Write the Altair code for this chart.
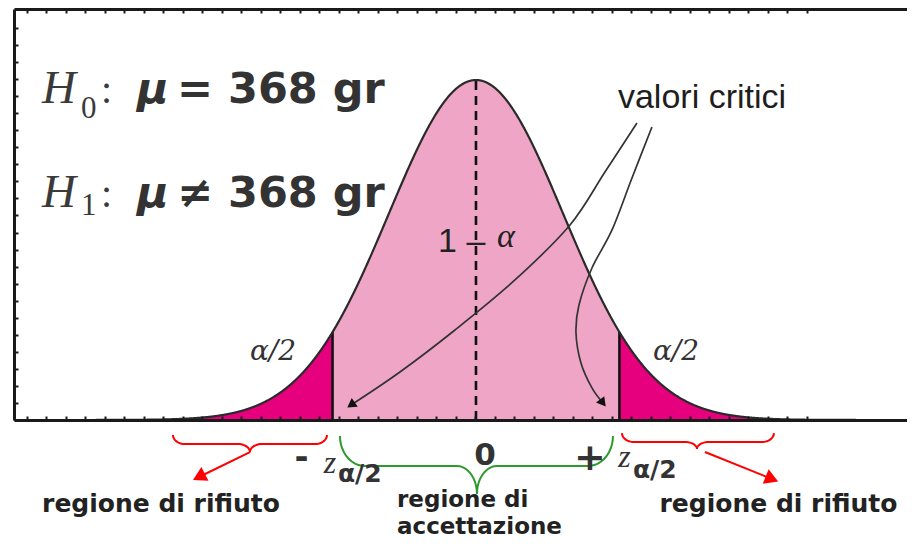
import altair as alt
import numpy as np
import pandas as pd

# ---------------- data ----------------
Z_CRIT = 1.645                      # critical value z_{alpha/2}
MU, SIGMA = 0, 1
CRIT_VALUES = [-Z_CRIT, Z_CRIT]
CENTER = [MU]
Z_DOMAIN = [-5.298, 4.943]
D_DOMAIN = [0.0, 0.4823]

H_SYMBOL = "H"
HYP_SUBS = ["0", "1"]
MU_SYMBOL = "μ"
HYP_RELS = ["= 368 gr", "≠ 368 gr"]
LBL_CRIT = "valori critici"
LBL_ONE, LBL_MINUS, LBL_ALPHA = "1", "–", "α"
LBL_HALF = "α/2"
LBL_Z = "z"
LBL_ZERO = "0"
LBL_NEG, LBL_POS = "-", "+"
LBL_REJECT = "regione di rifiuto"
LBL_ACCEPT = ["regione di", "accettazione"]

XTICKS = [round(-5.15 + 0.2236 * k, 4) for k in range(41)]
YTICKS = [round(0.02 * k, 2) for k in range(1, 24)]

# ---------------- style ----------------
W, H = 893, 411
PINK = "#EFA6C6"
MAGENTA = "#E6007E"
RED = "#FF0000"
GREEN = "#2E9A2E"
INK = "#222222"
FRAME = "#1a1a1a"

xs = alt.Scale(domain=Z_DOMAIN, nice=False, zero=False)
ys = alt.Scale(domain=D_DOMAIN, nice=False, zero=False)

frame_axis = dict(labels=False, title=None, grid=False, domainColor=FRAME,
                  domainWidth=3, tickColor=FRAME, tickWidth=2, tickSize=4, zindex=1)

seq = alt.sequence(Z_DOMAIN[0], Z_DOMAIN[1], 0.005, as_="z")
dens = f"densityNormal({{}},{MU},{SIGMA})"


def area_layer(expr, color, xaxis=None):
    return alt.Chart(seq).transform_calculate(zz=expr).transform_calculate(
        d=dens.format("datum.zz")
    ).mark_area(color=color).encode(
        x=alt.X("zz:Q", scale=xs, axis=xaxis),
        y=alt.Y("d:Q", scale=ys, axis=None),
    )


center_area = area_layer(f"clamp(datum.z,{-Z_CRIT},{Z_CRIT})", PINK)
left_tail = area_layer(f"min(datum.z,{-Z_CRIT})", MAGENTA,
                       xaxis=alt.Axis(orient="bottom", offset=-H, values=XTICKS, **frame_axis))
right_tail = area_layer(f"max(datum.z,{Z_CRIT})", MAGENTA)

outline = alt.Chart(seq).transform_calculate(d=dens.format("datum.z")).mark_line(
    color="#2a2a2a", strokeWidth=2.2
).encode(
    x=alt.X("z:Q", scale=xs, axis=alt.Axis(orient="top", offset=-H, values=XTICKS, **frame_axis)),
    y=alt.Y("d:Q", scale=ys, axis=alt.Axis(orient="right", offset=-W, values=YTICKS, **frame_axis)),
)


def vrule(values, **style):
    return alt.Chart(pd.DataFrame({"z": values})).transform_calculate(
        d=dens.format("datum.z"), d0="0"
    ).mark_rule(color="#111111", strokeWidth=2.6, **style).encode(
        x=alt.X("z:Q", axis=None), y=alt.Y("d0:Q", axis=None), y2="d:Q"
    )


crit_lines = vrule(CRIT_VALUES)
center_line = vrule(CENTER, strokeDash=[9, 6])


def text_layer(label, x, y, size, font="DejaVu Sans", weight="normal", style="normal",
               color=INK, align="left"):
    return alt.Chart(alt.Data(values=[{"t": label, "px": x, "py": y}])).mark_text(
        align=align, baseline="alphabetic", font=font, fontSize=size,
        fontWeight=weight, fontStyle=style, color=color
    ).encode(x=alt.X("px:Q", axis=None), y=alt.Y("py:Q", axis=None), text="t:N")


texts = []
for sub, rel, yb, ysub in zip(HYP_SUBS, HYP_RELS, [0.3720, 0.2500], [0.3544, 0.2406]):
    texts += [
        text_layer(H_SYMBOL, -4.977, yb, 47, font="Liberation Serif", style="italic", color="#3a3a3a"),
        text_layer(sub, -4.530, ysub, 31, font="Liberation Serif", color="#3a3a3a"),
        text_layer(":", -4.300, yb, 40, font="Liberation Serif", color="#3a3a3a"),
        text_layer(MU_SYMBOL, -3.888, yb, 43, weight="bold", style="italic", color="#333333"),
        text_layer(rel, -3.429, yb, 43, weight="bold", color="#333333"),
    ]

texts += [
    text_layer(LBL_CRIT, 1.628, 0.3661, 34, font="Liberation Sans", color="#1e1e1e"),
    text_layer(LBL_ONE, -0.436, 0.1971, 34, font="Liberation Sans"),
    text_layer(LBL_MINUS, 0.0, 0.1971, 34, font="Liberation Sans", align="center"),
    text_layer(LBL_ALPHA, 0.241, 0.2030, 34, font="Liberation Serif", style="italic"),
    text_layer(LBL_HALF, -2.328, 0.0704, 28, font="DejaVu Serif", style="italic",
               color="#333333", align="center"),
    text_layer(LBL_HALF, 2.294, 0.0704, 28, font="DejaVu Serif", style="italic",
               color="#333333", align="center"),
    text_layer(LBL_NEG, -2.001, -0.0563, 34, weight="bold", color="#333333", align="center"),
    text_layer(LBL_Z, -1.674, -0.0622, 32, font="Liberation Serif", style="italic",
               color="#333333", align="center"),
    text_layer(LBL_HALF, -1.583, -0.0728, 25, weight="bold", color="#333333"),
    text_layer(LBL_ZERO, 0.103, -0.0528, 31, weight="bold", color="#333333", align="center"),
    text_layer(LBL_POS, 1.307, -0.0587, 38, weight="bold", color="#333333", align="center"),
    text_layer(LBL_Z, 1.703, -0.0552, 32, font="Liberation Serif", style="italic",
               color="#333333", align="center"),
    text_layer(LBL_HALF, 1.800, -0.0681, 25, weight="bold", color="#333333"),
    text_layer(LBL_REJECT, -3.612, -0.1080, 25, weight="bold", align="center"),
    text_layer(LBL_REJECT, 3.469, -0.1080, 25, weight="bold", align="center"),
    text_layer(LBL_ACCEPT[0], -0.906, -0.1021, 23, weight="bold"),
    text_layer(LBL_ACCEPT[1], -0.906, -0.1338, 23, weight="bold"),
]


# ---------------- braces & arrows (annotation geometry) ----------------
def brace(x0, x1, xm, ye, yf, yt, rxe, rxm, n=12):
    t = np.linspace(0, np.pi / 2, n)
    xs_ = np.concatenate([
        x0 + rxe * (1 - np.cos(t)),
        xm - rxm + rxm * np.sin(t),
        xm + rxm * (1 - np.cos(t)),
        x1 - rxe + rxe * np.sin(t),
    ])
    ys_ = np.concatenate([
        ye + (yf - ye) * np.sin(t),
        yf + (yt - yf) * (1 - np.cos(t)),
        yt + (yf - yt) * np.sin(t),
        yf + (ye - yf) * (1 - np.cos(t)),
    ])
    return xs_, ys_


def brace_layer(specs, color):
    frames = []
    for i, s in enumerate(specs):
        bx, by = brace(*s)
        frames.append(pd.DataFrame({"z": bx, "d": by, "o": np.arange(len(bx)), "b": i}))
    return alt.Chart(pd.concat(frames)).mark_line(color=color, strokeWidth=2).encode(
        x=alt.X("z:Q", axis=None), y=alt.Y("d:Q", axis=None), order="o:Q", detail="b:N"
    )


red_braces = brace_layer([
    (-3.475, -1.709, -2.592, -0.0176, -0.0282, -0.0376, 0.138, 0.138),
    (1.674, 3.417, 2.534, -0.0153, -0.0258, -0.0340, 0.138, 0.138),
], RED)
green_brace = brace_layer([
    (-1.560, 1.571, 0.011, -0.0188, -0.0540, -0.0868, 0.287, 0.229),
], GREEN)


def rule_layer(x, y, x2, y2, color, width):
    return alt.Chart(alt.Data(values=[{"a": x, "b": y, "a2": x2, "b2": y2}])).mark_rule(
        color=color, strokeWidth=width
    ).encode(
        x=alt.X("a:Q", axis=None), y=alt.Y("b:Q", axis=None), x2="a2:Q", y2="b2:Q"
    )


def head_layer(x, y, angle, size, color):
    return alt.Chart(alt.Data(values=[{"a": x, "b": y}])).mark_point(
        shape="triangle-up", filled=True, opacity=1, size=size, angle=angle, color=color
    ).encode(x=alt.X("a:Q", axis=None), y=alt.Y("b:Q", axis=None))


red_arrows = [
    rule_layer(-2.592, -0.0376, -3.177, -0.0669, RED, 2),
    head_layer(-3.177, -0.0669, 243, 240, RED),
    rule_layer(2.626, -0.0376, 3.394, -0.0692, RED, 2),
    head_layer(3.394, -0.0692, 112, 240, RED),
]

arrow_a = pd.DataFrame({
    "z": [1.846, 1.479, 1.078, 0.447, -0.241, -0.872, -1.433],
    "d": [0.3485, 0.2910, 0.2288, 0.1643, 0.1056, 0.0563, 0.0176],
})
arrow_b = pd.DataFrame({
    "z": [2.018, 1.789, 1.560, 1.330, 1.181, 1.147, 1.204, 1.330, 1.456],
    "d": [0.3438, 0.2840, 0.2230, 0.1784, 0.1350, 0.1021, 0.0669, 0.0376, 0.0200],
})
black_arrows = []
for df in (arrow_a, arrow_b):
    df = df.assign(o=np.arange(len(df)))
    black_arrows.append(
        alt.Chart(df).mark_line(color="#333333", strokeWidth=1.7, interpolate="cardinal").encode(
            x=alt.X("z:Q", axis=None), y=alt.Y("d:Q", axis=None), order="o:Q"
        )
    )
black_arrows += [
    head_layer(-1.433, 0.0176, 235, 110, "#111111"),
    head_layer(1.456, 0.0200, 142, 110, "#111111"),
]

chart = alt.layer(
    center_area, left_tail, right_tail, crit_lines, center_line, outline,
    *black_arrows, red_braces, green_brace, *red_arrows, *texts
).properties(
    width=W, height=H,
    autosize=alt.AutoSizeParams(type="none"),
    padding={"left": 6, "top": 1, "right": 0, "bottom": 120},
    background="white",
).resolve_axis(x="independent", y="independent").configure_view(strokeWidth=0)

chart.save("out.html", embed_options={"renderer": "svg", "actions": False})
